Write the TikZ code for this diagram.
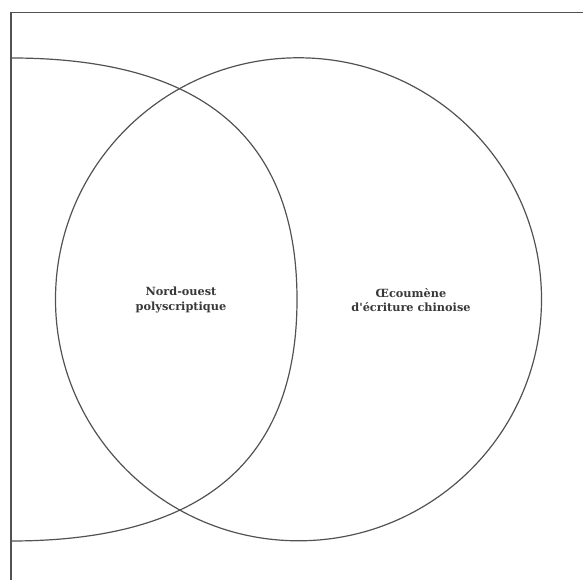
\documentclass[tikz,border=0pt]{standalone}
\usepackage{fontspec}
\setmainfont{DejaVu Serif}[Ligatures=TeXOff]
\begin{document}
\begin{tikzpicture}[x=1pt,y=1pt,
  shapeline/.style={draw=black!68, line width=1.2pt},
  label/.style={align=center, font=\bfseries\fontsize{11.3}{14.5}\selectfont, text=black!78, inner sep=0pt}]
\useasboundingbox (0,0) rectangle (583,580);
\coordinate (tl) at (11,567.5);
\coordinate (tr) at (583,567.5);
\coordinate (bl) at (11,0);
\coordinate (ltop) at (11,522);
\coordinate (lright) at (297,280.5);
\coordinate (lbot) at (11,39);
\draw[shapeline] (tr) -- (tl) -- (bl);
\draw[shapeline] (ltop) .. controls (202.6,522) and (297,442.3) .. (lright)
  .. controls (297,118.7) and (202.6,39) .. (lbot);
\draw[shapeline] (298.5,280.7) ellipse[x radius=243, y radius=241.5];
\node[label] (nw) at (181,280) {Nord-ouest\\polyscriptique};
\node[label] (cw) at (411,280) {Œcoumène\\d'écriture chinoise};
\end{tikzpicture}
\end{document}
